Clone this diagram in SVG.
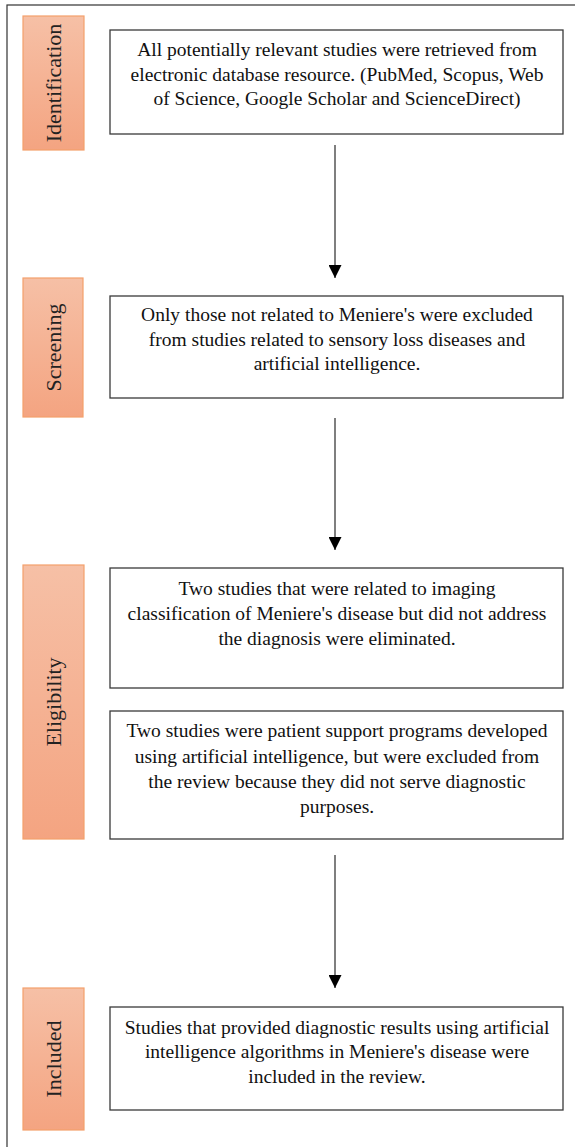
<svg xmlns="http://www.w3.org/2000/svg" width="575" height="1147" viewBox="0 0 575 1147">
<defs>
<linearGradient id="lab" x1="0" y1="0" x2="0" y2="1">
<stop offset="0" stop-color="#F6C0A6"/>
<stop offset="1" stop-color="#F4A481"/>
</linearGradient>
<marker id="ah" viewBox="0 0 10 10" refX="10" refY="5" markerWidth="13" markerHeight="13" markerUnits="userSpaceOnUse" orient="auto">
<path d="M0,0 L10,5 L0,10 Z" fill="#000"/>
</marker>
<style>
.lab{fill:url(#lab);stroke:#F4A06C;stroke-width:1.2}
.lt{font-family:"Liberation Serif","Times New Roman",serif;font-size:22px;fill:#222;text-anchor:middle}
.box{fill:#fff;stroke:#3a3a3a;stroke-width:1.3}
.bt{font-family:"Liberation Serif","Times New Roman",serif;font-size:19.5px;fill:#111;text-anchor:middle}
.arr{stroke:#555;stroke-width:1.5;fill:none;marker-end:url(#ah)}
</style>
</defs>
<rect x="0" y="0" width="575" height="1147" fill="#fff"/>
<rect x="7" y="5" width="600" height="1200" fill="none" stroke="#333" stroke-width="1.2"/>

<g id="label-identification">
<rect class="lab" x="23" y="16" width="61" height="134"/>
<text class="lt" transform="translate(61,83) rotate(-90)">Identification</text>
</g>
<g id="label-screening">
<rect class="lab" x="23" y="278" width="60" height="139"/>
<text class="lt" transform="translate(61,347.5) rotate(-90)">Screening</text>
</g>
<g id="label-eligibility">
<rect class="lab" x="23" y="565" width="61" height="274"/>
<text class="lt" transform="translate(61,702) rotate(-90)">Eligibility</text>
</g>
<g id="label-included">
<rect class="lab" x="23" y="988" width="61" height="142"/>
<text class="lt" transform="translate(61,1059) rotate(-90)">Included</text>
</g>

<g id="box-identification">
<rect class="box" x="110" y="30" width="453" height="104"/>
<text class="bt" x="337" y="56">All potentially relevant studies were retrieved from</text>
<text class="bt" x="337" y="81">electronic database resource. (PubMed, Scopus, Web</text>
<text class="bt" x="337" y="105">of Science, Google Scholar and ScienceDirect)</text>
</g>
<g id="box-screening">
<rect class="box" x="110" y="296" width="453" height="102"/>
<text class="bt" x="337" y="321">Only those not related to Meniere's were excluded</text>
<text class="bt" x="337" y="346">from studies related to sensory loss diseases and</text>
<text class="bt" x="337" y="370">artificial intelligence.</text>
</g>
<g id="box-eligibility-1">
<rect class="box" x="110" y="568" width="453" height="120"/>
<text class="bt" x="337" y="595">Two studies that were related to imaging</text>
<text class="bt" x="337" y="620">classification of Meniere's disease but did not address</text>
<text class="bt" x="337" y="645">the diagnosis were eliminated.</text>
</g>
<g id="box-eligibility-2">
<rect class="box" x="110" y="711" width="453" height="128"/>
<text class="bt" x="337" y="737">Two studies were patient support programs developed</text>
<text class="bt" x="337" y="763">using artificial intelligence, but were excluded from</text>
<text class="bt" x="337" y="788">the review because they did not serve diagnostic</text>
<text class="bt" x="337" y="813">purposes.</text>
</g>
<g id="box-included">
<rect class="box" x="110" y="1007" width="453" height="103"/>
<text class="bt" x="337" y="1034">Studies that provided diagnostic results using artificial</text>
<text class="bt" x="337" y="1058">intelligence algorithms in Meniere's disease were</text>
<text class="bt" x="337" y="1083">included in the review.</text>
</g>

<g id="connectors">
<line class="arr" x1="335" y1="145" x2="335" y2="278"/>
<line class="arr" x1="335" y1="418" x2="335" y2="550"/>
<line class="arr" x1="335" y1="855" x2="335" y2="988"/>
</g>
</svg>
